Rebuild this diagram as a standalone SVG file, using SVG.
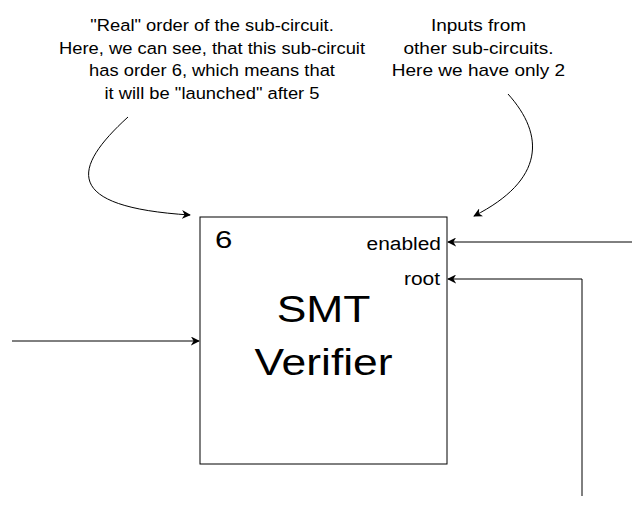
<svg xmlns="http://www.w3.org/2000/svg" width="634" height="510" viewBox="0 0 634 510">
<style>
text{font-family:"Liberation Sans",Arial,sans-serif;fill:#000}
.ann{font-size:17px;text-anchor:middle}
.port{font-size:19px;text-anchor:end}
.big{font-size:37px;text-anchor:middle}
.conn{fill:none;stroke:#000;stroke-width:1}
</style>
<defs>
<marker id="ah" viewBox="0 0 10 10" refX="9" refY="5" markerWidth="9" markerHeight="9" markerUnits="userSpaceOnUse" orient="auto">
<path d="M0,0 L10,5 L0,10 L3,5 Z" fill="#000"/>
</marker>
</defs>
<g id="note-order">
<text class="ann" transform="translate(212,31) scale(1.08,1)">"Real" order of the sub-circuit.</text>
<text class="ann" transform="translate(212,53.5) scale(1.08,1)">Here, we can see, that this sub-circuit</text>
<text class="ann" transform="translate(212,76) scale(1.08,1)">has order 6, which means that</text>
<text class="ann" transform="translate(212,98.5) scale(1.08,1)">it will be "launched" after 5</text>
</g>
<g id="note-inputs">
<text class="ann" transform="translate(478.5,31) scale(1.12,1)">Inputs from</text>
<text class="ann" transform="translate(478.5,53.5) scale(1.12,1)">other sub-circuits.</text>
<text class="ann" transform="translate(478.5,76) scale(1.12,1)">Here we have only 2</text>
</g>
<g id="smt-verifier">
<rect x="200" y="217" width="247" height="247" fill="#fff" stroke="#000" stroke-width="1"/>
<text transform="translate(215,248) scale(1.3,1)" font-size="24">6</text>
<text class="port" transform="translate(441,250) scale(1.1,1)">enabled</text>
<text class="port" transform="translate(440,285) scale(1.1,1)">root</text>
<text class="big" transform="translate(323.5,322) scale(1.2,1)">SMT</text>
<text class="big" transform="translate(323.5,375) scale(1.2,1)">Verifier</text>
</g>
<g id="connectors">
<path class="conn" d="M128,117 C72,168 62,207 190,215" marker-end="url(#ah)"/>
<path class="conn" d="M508,94 C545,135 545,180 474,216" marker-end="url(#ah)"/>
<path class="conn" d="M632,242 L448,242" marker-end="url(#ah)"/>
<path class="conn" d="M582,496 L582,279 L448,279" marker-end="url(#ah)"/>
<path class="conn" d="M12,341 L199,341" marker-end="url(#ah)"/>
</g>
</svg>
